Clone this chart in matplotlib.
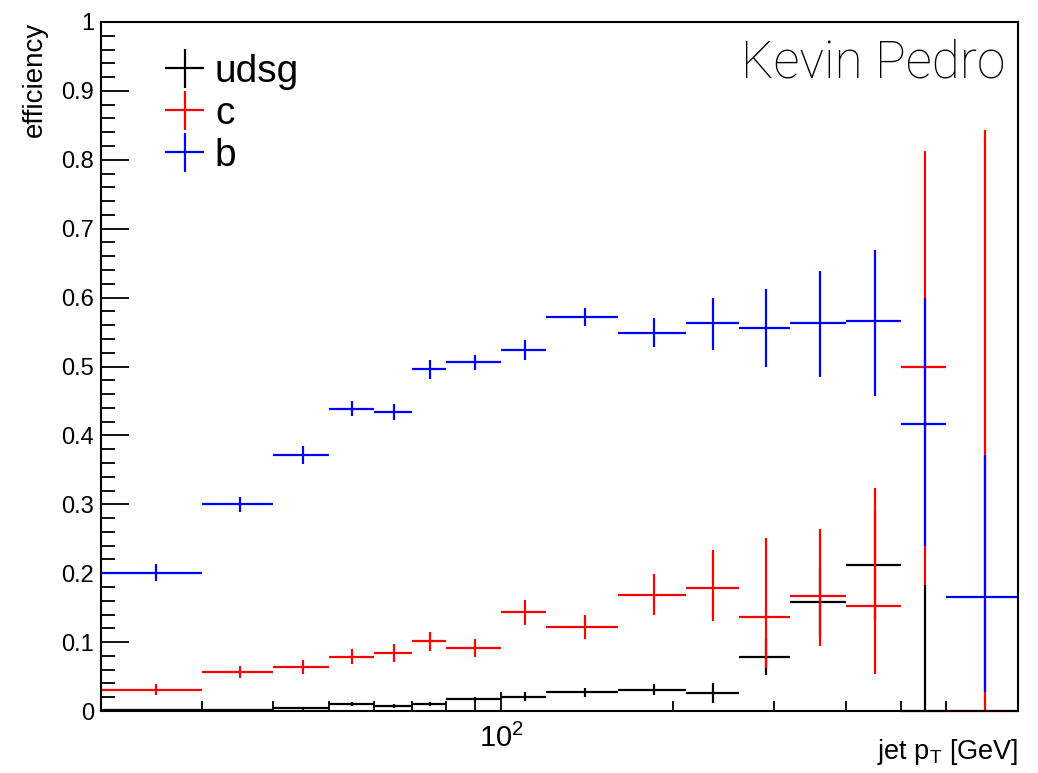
import numpy as np
import matplotlib
matplotlib.use("Agg")
import matplotlib.pyplot as plt
from matplotlib.ticker import FixedLocator, NullFormatter, FixedFormatter

plt.rcParams['font.family'] = ['Liberation Sans', 'DejaVu Sans']
plt.rcParams['mathtext.default'] = 'regular'

# ---- data ----
edges = [20, 30, 40, 50, 60, 70, 80, 100, 120, 160, 210, 260, 320, 400, 500, 600, 800]

udsg_eff = [0.002, 0.002, 0.004, 0.010, 0.007, 0.010, 0.017, 0.021, 0.027, 0.031, 0.026,
            0.079, 0.158, 0.212, 0.0, np.nan]
udsg_lo = [0.001, 0.001, 0.002, 0.003, 0.003, 0.003, 0.004, 0.006, 0.006, 0.008, 0.014,
           0.027, 0.050, 0.080, 0.0, 0.0]
udsg_hi = [0.001, 0.001, 0.002, 0.003, 0.003, 0.003, 0.004, 0.006, 0.006, 0.008, 0.014,
           0.027, 0.050, 0.080, 0.183, 0.0]

c_eff = [0.031, 0.057, 0.064, 0.079, 0.084, 0.101, 0.091, 0.143, 0.122, 0.169, 0.179,
         0.136, 0.167, 0.152, 0.500, 0.0]
c_lo = [0.008, 0.009, 0.010, 0.011, 0.013, 0.014, 0.013, 0.018, 0.017, 0.030, 0.048,
        0.074, 0.073, 0.098, 0.317, 0.0]
c_hi = [0.008, 0.009, 0.010, 0.011, 0.013, 0.014, 0.013, 0.018, 0.017, 0.030, 0.055,
        0.115, 0.097, 0.172, 0.313, 0.843]

b_eff = [0.201, 0.300, 0.372, 0.439, 0.434, 0.496, 0.506, 0.524, 0.572, 0.549, 0.563,
         0.556, 0.563, 0.566, 0.417, 0.165]
b_lo = [0.012, 0.011, 0.013, 0.011, 0.012, 0.014, 0.011, 0.014, 0.013, 0.021, 0.039,
        0.056, 0.078, 0.109, 0.177, 0.137]
b_hi = [0.012, 0.011, 0.013, 0.011, 0.012, 0.014, 0.011, 0.014, 0.013, 0.021, 0.037,
        0.056, 0.075, 0.103, 0.183, 0.207]

series = [("udsg", udsg_eff, udsg_lo, udsg_hi, "black"),
          ("c", c_eff, c_lo, c_hi, "#ff0000"),
          ("b", b_eff, b_lo, b_hi, "#0000ff")]

x_major = [100]
x_major_labels = [r"$10^{2}$"]
x_minor = [20, 30, 40, 50, 60, 70, 80, 90, 200, 300, 400, 500, 600, 700, 800]
y_major = [0, 0.1, 0.2, 0.3, 0.4, 0.5, 0.6, 0.7, 0.8, 0.9, 1.0]
y_major_labels = ["0", "0.1", "0.2", "0.3", "0.4", "0.5", "0.6", "0.7", "0.8", "0.9", "1"]

# ---- figure ----
W, H = 1038, 773
fig = plt.figure(figsize=(W / 100, H / 100), dpi=100)
ax = fig.add_axes([101 / W, 1 - 711 / H, (1018 - 101) / W, (711 - 22) / H])

e = np.array(edges, dtype=float)
centers = 0.5 * (e[:-1] + e[1:])
xerr = np.vstack([centers - e[:-1], e[1:] - centers])

for name, eff, lo, hi, col in series:
    ax.errorbar(centers, eff, yerr=[lo, hi], xerr=xerr, fmt='none', ecolor=col,
                elinewidth=1.6, capsize=0, label=name, clip_on=False, zorder=2)

ax.set_xscale('log')
ax.set_xlim(edges[0], edges[-1])
ax.set_ylim(0, 1)

ax.xaxis.set_major_locator(FixedLocator(x_major))
ax.xaxis.set_major_formatter(FixedFormatter(x_major_labels))
ax.xaxis.set_minor_locator(FixedLocator(x_minor))
ax.xaxis.set_minor_formatter(NullFormatter())
ax.yaxis.set_major_locator(FixedLocator(y_major))
ax.yaxis.set_major_formatter(FixedFormatter(y_major_labels))
ax.yaxis.set_minor_locator(FixedLocator(np.arange(0, 1.0001, 0.02)))

ax.tick_params(axis='y', which='major', direction='in', length=20, width=1.3,
               labelsize=17, pad=5, right=False)
ax.tick_params(axis='y', which='minor', direction='in', length=10, width=1.3, right=False)
ax.tick_params(axis='x', which='major', direction='in', length=13.5, width=1.3,
               labelsize=21, pad=9, top=False)
ax.tick_params(axis='x', which='minor', direction='in', length=7, width=1.3, top=False)

for s in ax.spines.values():
    s.set_linewidth(1.5)

fig.text(35 / W, 1 - 22 / H, "efficiency", rotation=90, ha='center', va='top', fontsize=20)
fig.text(1018 / W, 1 - 752 / H, r"jet p$_{T}$ [GeV]", ha='right', va='center', fontsize=19.5)
fig.text(1005 / W, 1 - 64 / H, "Kevin Pedro", ha='right', va='center', fontsize=37,
         family=['Roboto', 'DejaVu Sans'], fontweight='light', color='black')

leg = ax.legend(loc='upper left', bbox_to_anchor=(0.05, 0.976), frameon=False,
                fontsize=28, handlelength=1.15, handletextpad=0.2, labelspacing=0.15,
                borderaxespad=0)

fig.savefig("out.png", dpi=100)
